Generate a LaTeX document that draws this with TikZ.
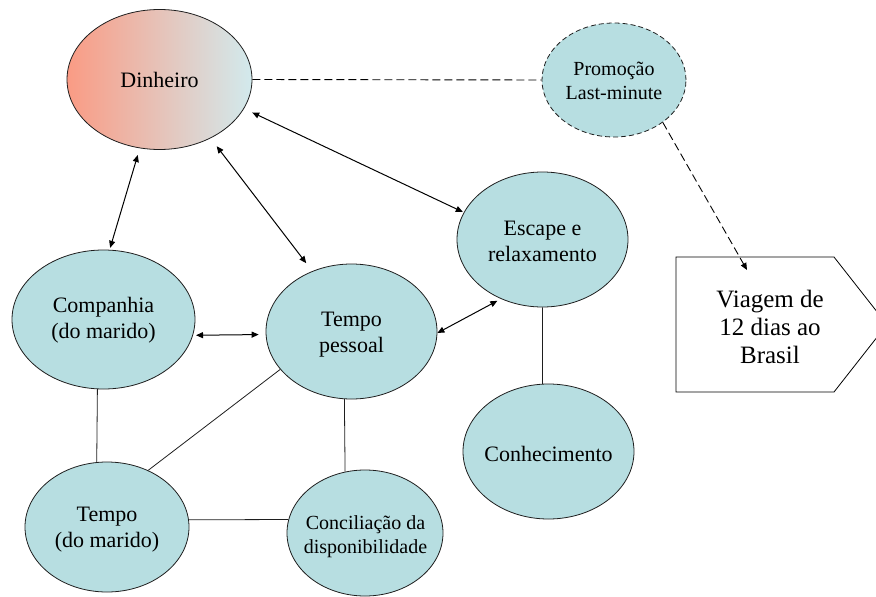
\documentclass[tikz,border=0pt]{standalone}
\usepackage{fontspec}
\setmainfont{Liberation Serif}
\newfontfamily\timesfont{Liberation Serif}
\usetikzlibrary{shapes.geometric,arrows.meta}
\definecolor{nodecyan}{RGB}{183,222,225}
\definecolor{salmonred}{RGB}{250,155,132}
\definecolor{palecyan}{RGB}{210,234,237}
\definecolor{edgegray}{RGB}{30,30,30}
\begin{document}
\begin{tikzpicture}[x=1pt,y=-1pt,
  bubble/.style={ellipse,draw=edgegray,line width=0.8pt,fill=nodecyan,inner sep=0pt},
  shadebubble/.style={ellipse,draw=edgegray,line width=0.8pt,inner sep=0pt,left color=salmonred,right color=palecyan},
  lbl/.style={align=center,font=\timesfont\fontsize{22}{26}\selectfont,inner sep=0pt},
  slbl/.style={align=center,font=\timesfont\fontsize{20}{24}\selectfont,inner sep=0pt},
  blbl/.style={align=center,font=\timesfont\fontsize{25}{28}\selectfont,inner sep=0pt},
  link/.style={draw=edgegray,line width=0.8pt},
  biarrow/.style={draw=black,line width=1pt,{Triangle[length=7pt,width=6pt]}-{Triangle[length=7pt,width=6pt]}},
  dashline/.style={draw=black,line width=0.9pt,dash pattern=on 8pt off 4pt}]
\useasboundingbox (0,0) rectangle (876,597);
\clip (0,0) rectangle (876,597);

% ellipses
\node[shadebubble,minimum width=185pt,minimum height=140pt] (din) at (159.5,79.5) {};
\node[bubble,dash pattern=on 5pt off 3pt,minimum width=144pt,minimum height=114pt] (promo) at (614,80) {};
\node[bubble,minimum width=171pt,minimum height=135pt] (esc) at (542.5,239.5) {};
\node[bubble,minimum width=183pt,minimum height=139pt] (comp) at (103.5,319.5) {};
\node[bubble,minimum width=171pt,minimum height=135pt] (tp) at (351.5,331.5) {};
\node[bubble,minimum width=171pt,minimum height=135pt] (conh) at (548.5,451.5) {};
\node[bubble,minimum width=164pt,minimum height=130pt] (tm) at (107,527) {};
\node[bubble,minimum width=156pt,minimum height=126pt] (conc) at (365,533) {};

% texts
\node[lbl] (dintxt) at (159.5,80) {Dinheiro};
\node[slbl] (promotxt) at (614,80.5) {Promoção\\Last-minute};
\node[lbl] (esctxt) at (542.5,241.5) {Escape e\\relaxamento};
\node[lbl] (comptxt) at (103.5,320) {Companhia\\(do marido)};
\node[lbl] (tptxt) at (351.5,334.5) {Tempo\\pessoal};
\node[lbl] (conhtxt) at (548.5,454) {Conhecimento};
\node[lbl] (tmtxt) at (107,529.5) {Tempo\\(do marido)};
\node[slbl] (conctxt) at (365.5,536.5) {Conciliação da\\disponibilidade};

% travel arrow shape
\draw[draw=black,line width=0.8pt,fill=white] (676,257) -- (834,257) -- (887,324.5) -- (834,392) -- (676,392) -- cycle;
\node[blbl] (viagem) at (770,327) {Viagem de\\12 dias ao\\Brasil};
\coordinate (vtip) at (747,270);

% plain links
\draw[link] (comp.265) -- (tm.99);
\draw[link] (tp.208) -- (tm.54);
\draw[link] (tp.264) -- (conc.108);
\draw[link] (tm.5) -- (conc.170);
\draw[link] (esc.south) -- (conh.95.5);

% double arrows
\draw[biarrow,shorten <=7pt,shorten >=2pt] (din.254) -- (comp.85);
\draw[biarrow,shorten <=10pt,shorten >=10pt] (din.311.6) -- (tp.123);
\draw[biarrow,shorten <=9pt,shorten >=1pt] (din.341.7) -- (esc.161.6);
\draw[biarrow,shorten <=3pt,shorten >=7pt] (comp.350.14) -- (tp.182.35);
\draw[biarrow,shorten >=4pt] (tp.359) -- (esc.235.2);

% dashed
\draw[dashline] (din.east) -- (promo.west);
\draw[dashline,-{Triangle[length=7pt,width=6pt]}] (promo.319) -- (vtip);
\end{tikzpicture}
\end{document}
